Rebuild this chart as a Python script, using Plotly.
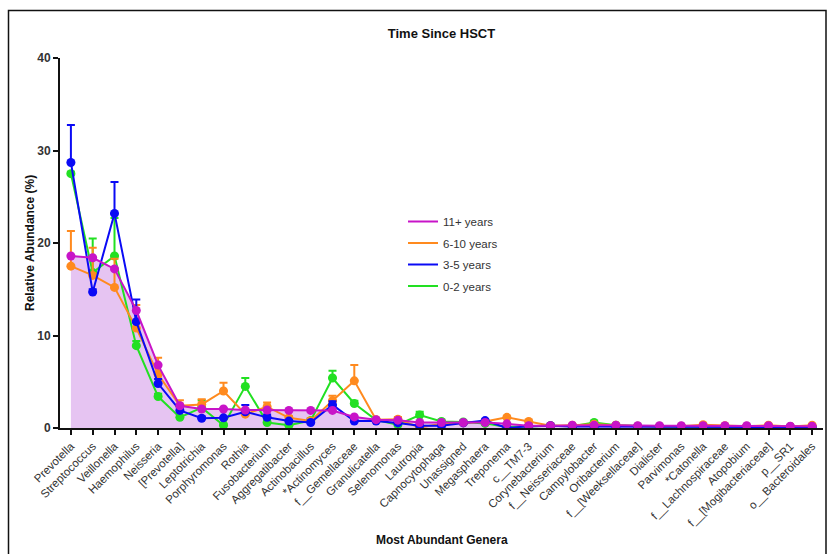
import plotly.graph_objects as go

genera = ["Prevotella", "Streptococcus", "Veillonella", "Haemophilus", "Neisseria",
          "[Prevotella]", "Leptotrichia", "Porphyromonas", "Rothia", "Fusobacterium",
          "Aggregatibacter", "Actinobacillus", "*Actinomyces", "f__Gemellaceae",
          "Granulicatella", "Selenomonas", "Lautropia", "Capnocytophaga", "Unassigned",
          "Megasphaera", "Treponema", "c__TM7-3", "Corynebacterium", "f__Neisseriaceae",
          "Campylobacter", "Oribacterium", "f__[Weeksellaceae]", "Dialister", "Parvimonas",
          "*Catonella", "f__Lachnospiraceae", "Atopobium", "f__[Mogibacteriaceae]",
          "p__SR1", "o__Bacteroidales"]

y_11plus = [18.6, 18.4, 17.2, 12.7, 6.8, 2.4, 2.05, 2.05, 1.95, 1.95, 1.9, 1.9, 1.9, 1.2,
            0.9, 0.85, 0.6, 0.6, 0.6, 0.6, 0.45, 0.25, 0.25, 0.3, 0.3, 0.3, 0.25, 0.25,
            0.25, 0.25, 0.25, 0.25, 0.25, 0.2, 0.2]
y_6_10 = [17.5, 16.5, 15.2, 10.8, 5.8, 2.4, 2.55, 4.0, 1.5, 2.3, 1.1, 0.75, 2.95, 5.1,
          0.9, 0.95, 0.05, 0.45, 0.55, 0.7, 1.15, 0.7, 0.25, 0.3, 0.4, 0.3, 0.2, 0.2,
          0.2, 0.35, 0.25, 0.2, 0.3, 0.15, 0.3]
e_6_10 = [3.8, 3.0, 3.1, 2.5, 1.8, 0.6, 0.55, 0.9, 0.2, 0.45, 0.2, 0.3, 0.55, 1.7,
          0.1, 0.25, 0.1, 0.05, 0.05, 0.05, 0.1, 0.1, 0.05, 0.05, 0.05, 0.05, 0.05, 0.05,
          0.05, 0.1, 0.05, 0.05, 0.05, 0.05, 0.05]
y_3_5 = [28.7, 14.7, 23.2, 11.5, 4.8, 1.9, 1.05, 1.1, 1.75, 1.15, 0.75, 0.6, 2.5, 0.75,
         0.75, 0.55, 0.25, 0.25, 0.55, 0.8, 0.0, 0.2, 0.25, 0.15, 0.15, 0.15, 0.1, 0.1,
         0.1, 0.1, 0.1, 0.1, 0.1, 0.1, 0.1]
e_3_5 = [4.05, 0.3, 3.4, 2.4, 0.5, 0.3, 0.2, 1.0, 0.75, 0.3, 0.1, 0.1, 0.4, 0.1,
         0.1, 0.1, 0.05, 0.05, 0.1, 0.1, 0.05, 0.05, 0.05, 0.05, 0.05, 0.05, 0.05, 0.05,
         0.05, 0.05, 0.05, 0.05, 0.05, 0.05, 0.05]
y_0_2 = [27.5, 16.8, 18.6, 8.9, 3.4, 1.15, 2.2, 0.3, 4.5, 0.6, 0.3, 0.8, 5.4, 2.65,
         0.85, 0.35, 1.4, 0.7, 0.65, 0.5, 0.1, 0.2, 0.25, 0.2, 0.6, 0.3, 0.2, 0.15,
         0.15, 0.15, 0.15, 0.15, 0.15, 0.15, 0.15]
e_0_2 = [0.2, 3.7, 4.1, 0.5, 0.3, 0.2, 0.8, 0.2, 0.9, 0.1, 0.1, 0.2, 0.8, 0.3,
         0.1, 0.1, 0.35, 0.05, 0.05, 0.05, 0.05, 0.05, 0.05, 0.05, 0.1, 0.05, 0.05, 0.05,
         0.05, 0.05, 0.05, 0.05, 0.05, 0.05, 0.05]

C_PURPLE = "#C814C8"
C_ORANGE = "#FF8A1E"
C_BLUE = "#0A0AF5"
C_GREEN = "#22E022"
C_FILL = "#E6C4F2"

fig = go.Figure()

# shaded area under 11+ years
fig.add_trace(go.Scatter(x=genera, y=y_11plus, mode="none", fill="tozeroy",
                         fillcolor=C_FILL, showlegend=False, hoverinfo="skip"))

def add_series(name, y, err, color, rank):
    kw = {}
    if err is not None:
        kw["error_y"] = dict(type="data", array=err, arrayminus=[0] * len(err),
                             symmetric=False, thickness=2, width=4, color=color)
    fig.add_trace(go.Scatter(x=genera, y=y, mode="lines+markers", name=name,
                             line=dict(color=color, width=2),
                             marker=dict(color=color, size=9),
                             showlegend=False, **kw))
    fig.add_trace(go.Scatter(x=[None], y=[None], mode="lines", name=name,
                             legendgroup=name,
                             line=dict(color=color, width=2), legendrank=rank))

add_series("0-2 years", y_0_2, e_0_2, C_GREEN, 4)
add_series("6-10 years", y_6_10, e_6_10, C_ORANGE, 2)
add_series("3-5 years", y_3_5, e_3_5, C_BLUE, 3)
add_series("11+ years", y_11plus, None, C_PURPLE, 1)

L, R, T, B = 60, 6, 58, 126
W, H = 829, 554
pw = W - L - R
ph = H - T - B

def px(x):
    return (x - L) / pw

def py(y):
    return (H - B - y) / ph

fig.update_layout(
    width=W, height=H,
    margin=dict(l=L, r=R, t=T, b=B, autoexpand=False),
    paper_bgcolor="white", plot_bgcolor="white",
    font=dict(family="Arial, Liberation Sans, sans-serif", color="#222"),
    title=dict(text="<b>Time Since HSCT</b>", x=px(441.5), xref="paper",
               xanchor="center", y=1 - 33 / H, yanchor="middle",
               font=dict(size=13, color="#111")),
    showlegend=True,
    legend=dict(x=px(403), y=py(207), xanchor="left", yanchor="top",
                bgcolor="rgba(0,0,0,0)", font=dict(size=11.5, color="#333"),
                tracegroupgap=2.5),
    xaxis=dict(type="category", range=[-0.5, 34.5], showgrid=False, zeroline=False,
               automargin=False,
               showline=True, linecolor="#111", linewidth=2,
               ticks="outside", ticklen=5, tickwidth=1.5, tickcolor="#111",
               tickangle=-45, tickfont=dict(size=11.5, color="#333")),
    yaxis=dict(range=[0, 40], tickvals=[0, 10, 20, 30, 40], showgrid=False,
               automargin=False,
               zeroline=False, showline=True, linecolor="#111", linewidth=2,
               ticks="outside", ticklen=5, tickwidth=1.5, tickcolor="#111",
               tickfont=dict(size=12, color="#333", weight="bold")),
    annotations=[
        dict(text="<b>Relative Abundance (%)</b>", xref="paper", yref="paper",
             x=px(30), y=py(243), textangle=-90, showarrow=False,
             xanchor="center", yanchor="middle", font=dict(size=12, color="#111")),
        dict(text="<b>Most Abundant Genera</b>", xref="paper", yref="paper",
             x=px(441.5), y=py(540), showarrow=False,
             xanchor="center", yanchor="middle", font=dict(size=12, color="#111")),
    ],
    shapes=[
        dict(type="rect", xref="paper", yref="paper",
             x0=px(8.5), x1=px(826), y0=py(565), y1=py(10.5),
             line=dict(color="#111", width=1.5), fillcolor="rgba(0,0,0,0)", layer="below"),
    ],
)

fig.write_html("out.html", config={"displayModeBar": False},
               post_script="document.body.style.margin='0';document.body.style.padding='0';")
